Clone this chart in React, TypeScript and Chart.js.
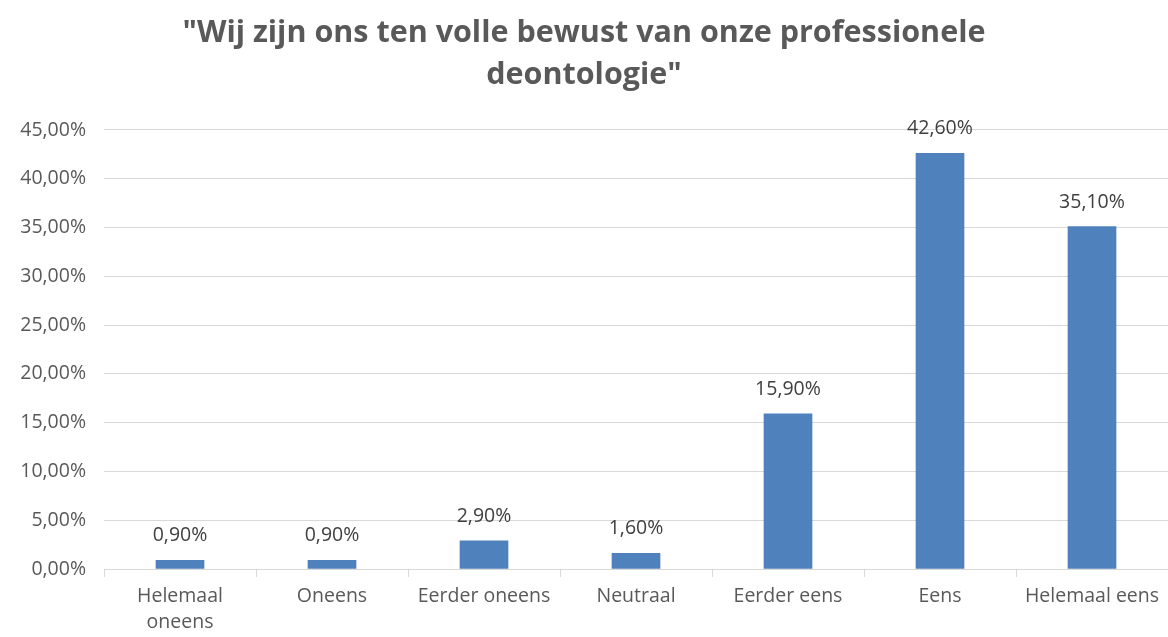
import React, { useEffect, useRef } from "react";
import { Chart, registerables } from "chart.js";

Chart.register(...registerables);

const categories: (string | string[])[] = [
  ["Helemaal", "oneens"],
  "Oneens",
  "Eerder oneens",
  "Neutraal",
  "Eerder eens",
  "Eens",
  "Helemaal eens",
];
const values: number[] = [0.9, 0.9, 2.9, 1.6, 15.9, 42.6, 35.1];
const titleLines: string[] = [
  '"Wij zijn ons ten volle bewust van onze professionele',
  'deontologie"',
];
const yMax = 45;
const yStep = 5;

const FONT = "'Open Sans', 'Liberation Sans', sans-serif";
const fmt = (v: number) => v.toFixed(2).replace(".", ",") + "%";

const dataLabelPlugin = {
  id: "dataLabels",
  afterDatasetsDraw(chart: any) {
    const ctx = chart.ctx;
    const meta = chart.getDatasetMeta(0);
    ctx.save();
    ctx.font = `19.5px ${FONT}`;
    ctx.fillStyle = "#404040";
    ctx.textAlign = "center";
    ctx.textBaseline = "alphabetic";
    meta.data.forEach((el: any, i: number) => {
      ctx.fillText(fmt(values[i]), el.x, el.y - 19);
    });
    ctx.restore();
  },
};

export default function App() {
  const ref = useRef<HTMLCanvasElement>(null);
  useEffect(() => {
    document.body.style.margin = "0";
    const chart = new Chart(ref.current!, {
      type: "bar",
      data: {
        labels: categories,
        datasets: [
          {
            data: values,
            backgroundColor: "#4f81bd",
            barThickness: 48,
          },
        ],
      },
      plugins: [dataLabelPlugin],
      options: {
        animation: false,
        responsive: false,
        layout: { padding: { top: 0, right: 0, left: 0, bottom: 0 } },
        plugins: {
          legend: { display: false },
          tooltip: { enabled: false },
          title: {
            display: true,
            text: titleLines,
            color: "#595959",
            font: { family: FONT, size: 30.5, weight: "bold", lineHeight: 1.36 },
            padding: { top: 13, bottom: 34 },
          },
        },
        scales: {
          x: {
            grid: {
              drawOnChartArea: false,
              drawTicks: true,
              tickLength: 8,
              offset: true,
              color: "#d9d9d9",
            },
            border: { color: "#d9d9d9" },
            ticks: {
              color: "#595959",
              font: { family: FONT, size: 19.5, lineHeight: 1.32 },
              maxRotation: 0,
              autoSkip: false,
              padding: 7,
            },
            afterFit: (s: any) => {
              s.height = 68;
            },
          },
          y: {
            min: 0,
            max: yMax,
            ticks: {
              stepSize: yStep,
              color: "#595959",
              font: { family: FONT, size: 19.5 },
              padding: 18,
              callback: (v: any) => fmt(Number(v)),
            },
            grid: { color: "#d9d9d9", drawTicks: false },
            border: { display: false },
            afterFit: (s: any) => {
              s.width = 104;
            },
          },
        },
      },
    } as any);
    return () => chart.destroy();
  }, []);
  return (
    <div style={{ width: 1168, height: 637 }}>
      <canvas ref={ref} width={1168} height={637} />
    </div>
  );
}
